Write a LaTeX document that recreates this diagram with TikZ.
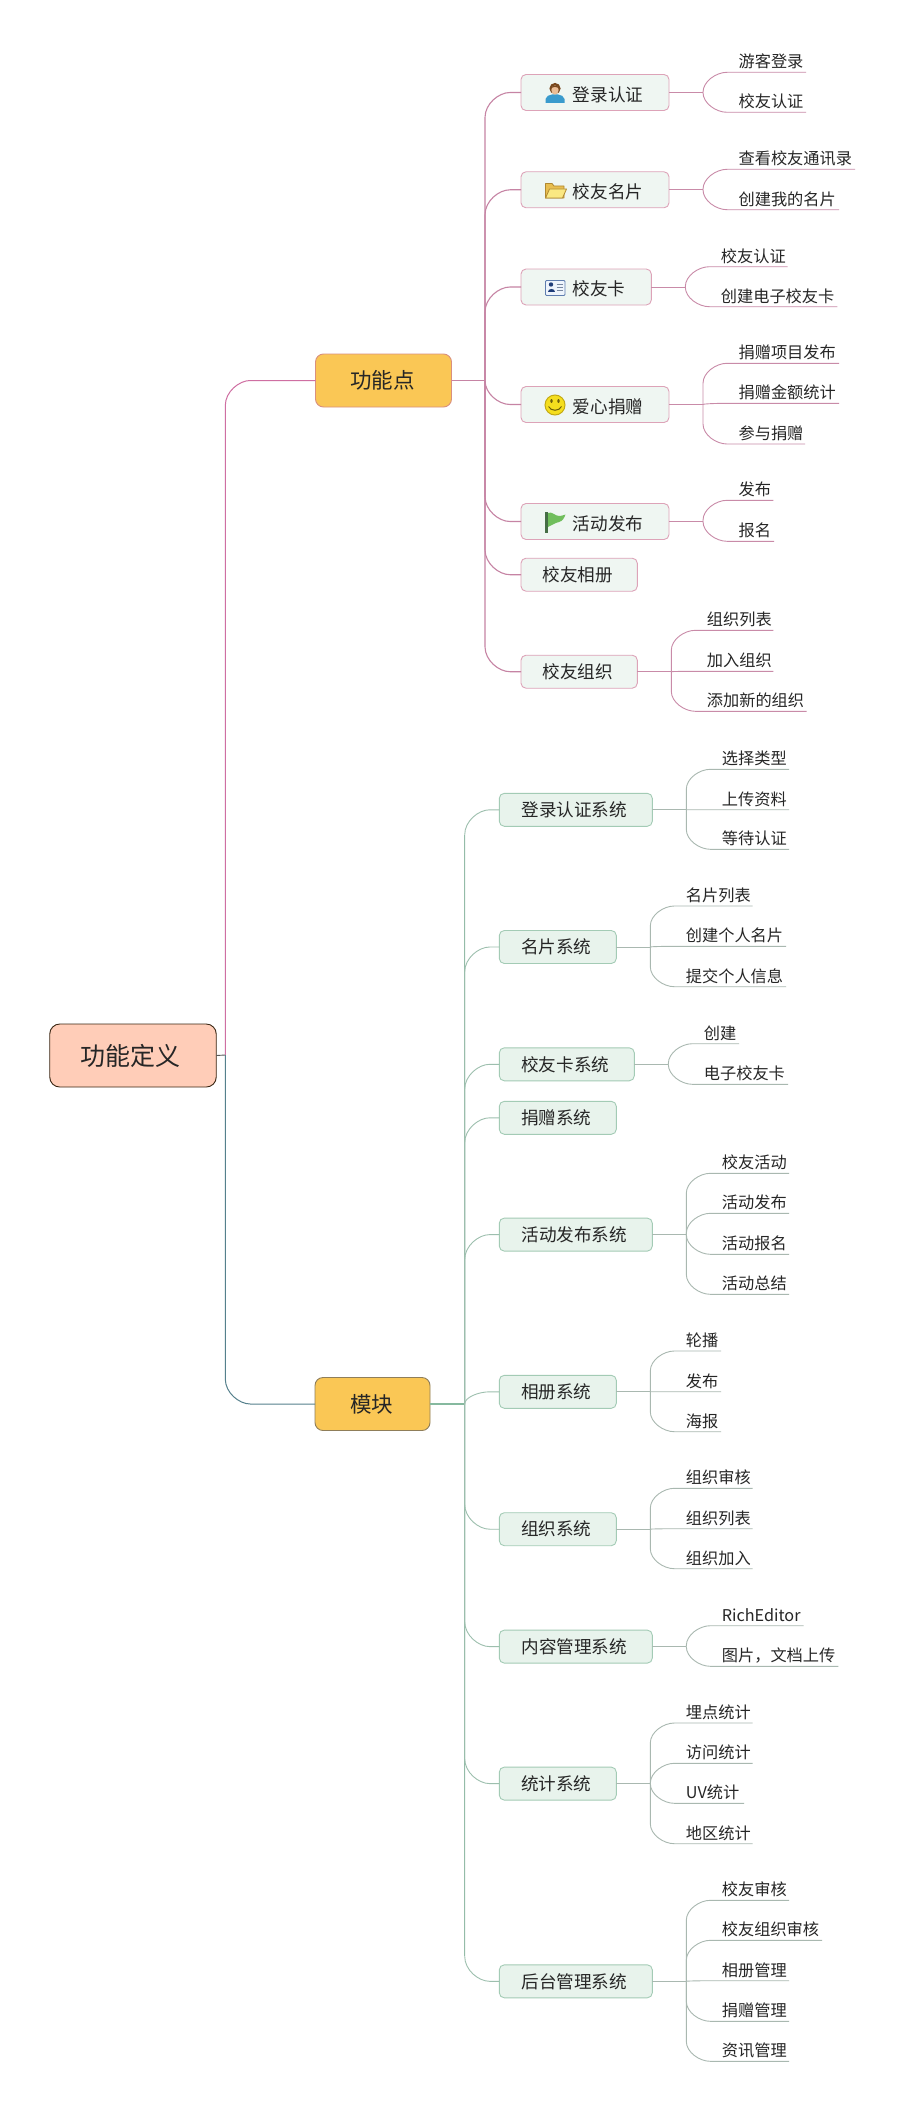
\documentclass[tikz,border=0pt]{standalone}
\usepackage{fontspec}
\setmainfont{Noto Sans CJK SC}
\definecolor{pinkline}{HTML}{C98BA8}
\definecolor{pinktrunk}{HTML}{C684A4}
\definecolor{greenline}{HTML}{A9B8B0}
\definecolor{greentrunk}{HTML}{86B99F}
\definecolor{greencurve}{HTML}{9DBFAE}
\definecolor{rootpink}{HTML}{CF6FA2}
\definecolor{rootblue}{HTML}{55808C}
\definecolor{inktext}{HTML}{262626}
\tikzset{
  rootbox/.style={draw=black!70!brown,fill=rootfill,rounded corners=10pt,line width=.9pt,inner sep=0pt,outer sep=0pt,minimum height=63pt,font=\fontsize{25}{25}\selectfont,text=inktext,text height=20pt,text depth=1pt},
  topboxa/.style={draw=topedgea,fill=topfill,rounded corners=8pt,line width=.9pt,inner sep=0pt,outer sep=0pt,minimum height=53pt,font=\fontsize{21.5}{21.5}\selectfont,text=inktext,text height=17.2pt,text depth=.9pt},
  topboxb/.style={topboxa,draw=topedgeb},
  pinkbox/.style={draw=pinkedge,fill=pinkfill,rounded corners=5pt,line width=.9pt,inner sep=0pt,outer sep=0pt,minimum height=33pt,font=\fontsize{17.6}{17.6}\selectfont,text=inktext,text height=14.1pt,text depth=.7pt},
  iconbox/.style={pinkbox,minimum height=36pt},
  greenbox/.style={pinkbox,draw=greenedge,fill=greenfill},
  leafnode/.style={anchor=south west,inner sep=0pt,outer sep=0pt,align=left,font=\fontsize{16.2}{16.2}\selectfont,text=inktext,text height=14pt,text depth=4.6pt},
  plink/.style={draw=pinkline,line width=.9pt},
  ptrunk/.style={draw=pinktrunk,line width=1.1pt},
  glink/.style={draw=greenline,line width=.9pt},
  gtrunk/.style={draw=greencurve,line width=.9pt},
  gspine/.style={draw=greentrunk,line width=1.4pt},
}
\definecolor{rootfill}{HTML}{FFCDB8}
\definecolor{topfill}{HTML}{FAC755}
\definecolor{topedgea}{HTML}{D9907E}
\definecolor{topedgeb}{HTML}{8F7E5A}
\definecolor{pinkedge}{HTML}{DDA3B8}
\definecolor{pinkfill}{HTML}{EFF6F2}
\definecolor{greenedge}{HTML}{A3CBB5}
\definecolor{greenfill}{HTML}{E8F3EC}
% curved connector: #1 style, #2 start coordinate, #3 x, #4 y of start, #5 target y, #6 horiz radius, #7 vert radius, #8 end
\newcommand\mmlink[8]{%
  \pgfmathsetmacro\mmd{#5-(#4)}%
  \pgfmathsetmacro\mms{\mmd<0?-1:1}%
  \pgfmathsetmacro\mmr{min(#7,abs(\mmd))}%
  \pgfmathsetmacro\mmya{#5-\mms*\mmr}%
  \pgfmathsetmacro\mmyb{#5-\mms*\mmr*0.45}%
  \pgfmathsetmacro\mmxb{#3+#6*0.55}%
  \pgfmathsetmacro\mmxc{#3+#6}%
  \draw[#1] (#2) -- (#3,\mmya) .. controls (#3,\mmyb) and (\mmxb,#5) .. (\mmxc,#5) -- (#8);%
}
% trunk coordinate
\newcommand\mmtrunk[5]{\coordinate (#1) at (#2,#3);\def\mmtn{#1}\def\mmtx{#2}\def\mmty{#3}\def\mmts{#4}\def\mmls{#5}}
% second level box: name, style, x1, y, text
\newcommand\mmsub[5]{%
  \pgfmathsetmacro\mmcx{(\mmxo+#3)/2}\pgfmathsetmacro\mmwd{#3-\mmxo}%
  \node[#2,minimum width=\mmwd pt] (#1) at (\mmcx,#4) {#5};%
  \mmlink{\mmts}{\mmtn}{\mmtx}{\mmty}{#4}{25}{25}{#1.west}%
  \pgfmathsetmacro\mmjx{#3+34}\def\mmjy{#4}%
  \coordinate (#1-j) at (\mmjx,#4);\def\mmjn{#1-j}%
}
\newcommand\mmstub[1]{\draw[\mmls] (#1) -- (\mmjn);}
% leaf: name, y of underline, x of line end, text
\newcommand\mmleaf[4]{%
  \pgfmathsetmacro\mmlx{\mmjx+35.6}\pgfmathsetmacro\mmlw{#3-\mmlx}%
  \node[leafnode,text width=\mmlw pt] (#1) at (\mmlx,#2) {#4};%
  \mmlink{\mmls}{\mmjn}{\mmjx}{\mmjy}{#2}{24}{20}{#1.south east}%
}
\newcommand\ictext[1]{\hspace*{29pt}\raisebox{-2.2pt}{#1}\hspace*{3pt}}
\newcommand\pltext[1]{#1\hspace*{3pt}}
\begin{document}
\begin{tikzpicture}[x=1pt,y=-1pt]
\useasboundingbox (0,0) rectangle (904,2111);
\fill[white] (0,0) rectangle (904,2111);
% root and top level
\node[rootbox,minimum width=166.5pt] (root) at (133,1055.5) {功能定义\hspace*{5pt}};
\node[topboxa,minimum width=136pt] (gnd) at (383.5,380.5) {功能点\hspace*{2pt}};
\node[topboxb,minimum width=115pt] (mk) at (372.5,1404) {模块\hspace*{2pt}};
\coordinate (rj) at (225.3,1055);
\draw[line width=.9pt,draw=black!65] (root.east) -- (rj);
\mmlink{draw=rootpink,line width=1pt}{rj}{225.3}{1055}{380.5}{25}{25}{gnd.west}
\mmlink{draw=rootblue,line width=1pt}{rj}{225.3}{1055}{1404}{25}{25}{mk.west}
% ---------- pink branch
\def\mmxo{521}
\mmtrunk{pt}{485}{380.5}{ptrunk}{plink}
\draw[ptrunk] (gnd.east) -- (pt);
\mmsub{a1}{iconbox}{669}{92.5}{\ictext{登录认证}}
\mmstub{a1.east}
\mmleaf{a11}{72.3}{806}{游客登录}
\mmleaf{a12}{112.3}{806}{校友认证}
\mmsub{a2}{iconbox}{669}{189.8}{\ictext{校友名片}}
\mmstub{a2.east}
\mmleaf{a21}{169.3}{855}{查看校友通讯录}
\mmleaf{a22}{209.7}{839}{创建我的名片}
\mmsub{a3}{iconbox}{651.3}{287}{\ictext{校友卡}}
\mmstub{a3.east}
\mmleaf{a31}{266.7}{787.7}{校友认证}
\mmleaf{a32}{306.7}{837.3}{创建电子校友卡}
\mmsub{a4}{iconbox}{669}{404.5}{\ictext{爱心捐赠}}
\mmstub{a4.east}
\mmleaf{a41}{363.3}{839}{捐赠项目发布}
\mmleaf{a42}{403.3}{839}{捐赠金额统计}
\mmleaf{a43}{444}{805}{参与捐赠}
\mmsub{a5}{iconbox}{669}{521.5}{\ictext{活动发布}}
\mmstub{a5.east}
\mmleaf{a51}{500.3}{773.3}{发布}
\mmleaf{a52}{541.3}{774}{报名}
\mmsub{a6}{pinkbox}{637.3}{574.7}{\pltext{校友相册}}
\mmsub{a7}{pinkbox}{637.3}{671.7}{\pltext{校友组织}}
\mmstub{a7.east}
\mmleaf{a71}{630.3}{773.3}{组织列表}
\mmleaf{a72}{671.3}{773.3}{加入组织}
\mmleaf{a73}{711.3}{806.7}{添加新的组织}
% ---------- green branch
\def\mmxo{499.3}
\mmtrunk{gt}{464.7}{1404}{gtrunk}{glink}
\draw[gspine] (mk.east) -- (gt);
\draw[gspine] (464.7,835) -- (464.7,1956);
\mmsub{b1}{greenbox}{652.3}{809.8}{\pltext{登录认证系统}}
\mmstub{b1.east}
\mmleaf{b11}{769.3}{789}{选择类型}
\mmleaf{b12}{809.7}{789}{上传资料}
\mmleaf{b13}{849.3}{789}{等待认证}
\mmsub{b2}{greenbox}{616.3}{947}{\pltext{名片系统}}
\mmstub{b2.east}
\mmleaf{b21}{906}{752.7}{名片列表}
\mmleaf{b22}{946.3}{786}{创建个人名片}
\mmleaf{b23}{986.7}{786}{提交个人信息}
\mmsub{b3}{greenbox}{634.3}{1064.3}{\pltext{校友卡系统}}
\mmstub{b3.east}
\mmleaf{b31}{1043.7}{739}{创建}
\mmleaf{b32}{1084.3}{788}{电子校友卡}
\mmsub{b4}{greenbox}{616.3}{1117.8}{\pltext{捐赠系统}}
\mmsub{b5}{greenbox}{652.3}{1234.6}{\pltext{活动发布系统}}
\mmstub{b5.east}
\mmleaf{b51}{1173.3}{789}{校友活动}
\mmleaf{b52}{1213.3}{789}{活动发布}
\mmleaf{b53}{1254.3}{789}{活动报名}
\mmleaf{b54}{1294.3}{789}{活动总结}
\mmsub{b6}{greenbox}{616.3}{1391.8}{\pltext{相册系统}}
\mmstub{b6.east}
\mmleaf{b61}{1351}{721}{轮播}
\mmleaf{b62}{1391.7}{721}{发布}
\mmleaf{b63}{1431.7}{721}{海报}
\mmsub{b7}{greenbox}{616.3}{1529.2}{\pltext{组织系统}}
\mmstub{b7.east}
\mmleaf{b71}{1488.3}{752.7}{组织审核}
\mmleaf{b72}{1528.7}{752.7}{组织列表}
\mmleaf{b73}{1568.7}{752.7}{组织加入}
\mmsub{b8}{greenbox}{652.3}{1646.6}{\pltext{内容管理系统}}
\mmstub{b8.east}
\mmleaf{b81}{1625.7}{803.7}{RichEditor}
\mmleaf{b82}{1666.3}{838.3}{图片，文档上传}
\mmsub{b9}{greenbox}{616.3}{1783.6}{\pltext{统计系统}}
\mmstub{b9.east}
\mmleaf{b91}{1723}{752.7}{埋点统计}
\mmleaf{b92}{1763.3}{752.7}{访问统计}
\mmleaf{b93}{1803.3}{744}{UV统计}
\mmleaf{b94}{1843.7}{752.7}{地区统计}
\mmsub{b10}{greenbox}{652.3}{1981.3}{\pltext{后台管理系统}}
\mmstub{b10.east}
\mmleaf{b101}{1900.3}{789}{校友审核}
\mmleaf{b102}{1940.3}{822}{校友组织审核}
\mmleaf{b103}{1980.7}{789}{相册管理}
\mmleaf{b104}{2021.3}{789}{捐赠管理}
\mmleaf{b105}{2061.3}{789}{资讯管理}
% ---------- icons
% person
\fill[color={rgb,255:red,58;green,155;blue,205}] (545.5,103) -- (545.5,99) .. controls (546,96) and (549,95) .. (552,94.5) -- (558,94.5) .. controls (561,95) and (564,96) .. (564.5,99) -- (564.5,103) -- cycle;
\fill[color={rgb,255:red,120;green,72;blue,30}] (555,88.5) circle (5.6);
\fill[color={rgb,255:red,236;green,190;blue,150}] (555,90) ellipse (3.6 and 4.6);
\fill[color={rgb,255:red,120;green,72;blue,30}] (551,88) .. controls (552,85) and (558,85) .. (559,88) .. controls (556,86.5) and (554,86.5) .. (551,88) -- cycle;
% folder
\draw[color={rgb,255:red,176;green,136;blue,48},fill={rgb,255:red,232;green,190;blue,80},line width=.8pt,line join=round] (545.5,198) -- (545.5,183.5) -- (552,183.5) -- (554,186) -- (564,186) -- (564,198) -- cycle;
\draw[color={rgb,255:red,176;green,136;blue,48},fill={rgb,255:red,250;green,232;blue,130},line width=.8pt,line join=round] (545.5,198) -- (549.5,189) -- (566.5,189) -- (562.5,198) -- cycle;
% id card
\draw[color={rgb,255:red,95;green,125;blue,175},fill={rgb,255:red,238;green,244;blue,252},line width=.8pt,rounded corners=1pt] (545.5,280.5) rectangle (565,295.5);
\fill[color={rgb,255:red,30;green,60;blue,120}] (551,284.5) circle (2.2);
\fill[color={rgb,255:red,30;green,60;blue,120}] (547.5,291.5) .. controls (547.5,288) and (554.5,288) .. (554.5,291.5) -- cycle;
\draw[color={rgb,255:red,120;green,135;blue,160},line width=.8pt] (556.5,284) -- (563,284) (556.5,287) -- (563,287) (556.5,290) -- (563,290);
% smiley
\draw[color={rgb,255:red,195;green,170;blue,20},fill={rgb,255:red,245;green,222;blue,30},line width=1pt] (555,405) circle (10);
\fill[color={rgb,255:red,110;green,95;blue,10}] (551.5,401) ellipse (1.2 and 2) (558.5,401) ellipse (1.2 and 2);
\draw[color={rgb,255:red,110;green,95;blue,10},line width=1pt] (548.5,406.5) .. controls (551,411.5) and (559,411.5) .. (561.5,406.5);
% flag
\draw[color={rgb,255:red,70;green,110;blue,70},line width=2.4pt] (546.5,512) -- (546.5,532.5);
\fill[color={rgb,255:red,112;green,190;blue,92}] (548,513) .. controls (552,511) and (555,516) .. (559,516) .. controls (561,516) and (563,515.5) .. (565.5,514.5) .. controls (564,518) and (563,521) .. (559,522) .. controls (555,523) and (552,525) .. (548,527) -- cycle;
\end{tikzpicture}
\end{document}
